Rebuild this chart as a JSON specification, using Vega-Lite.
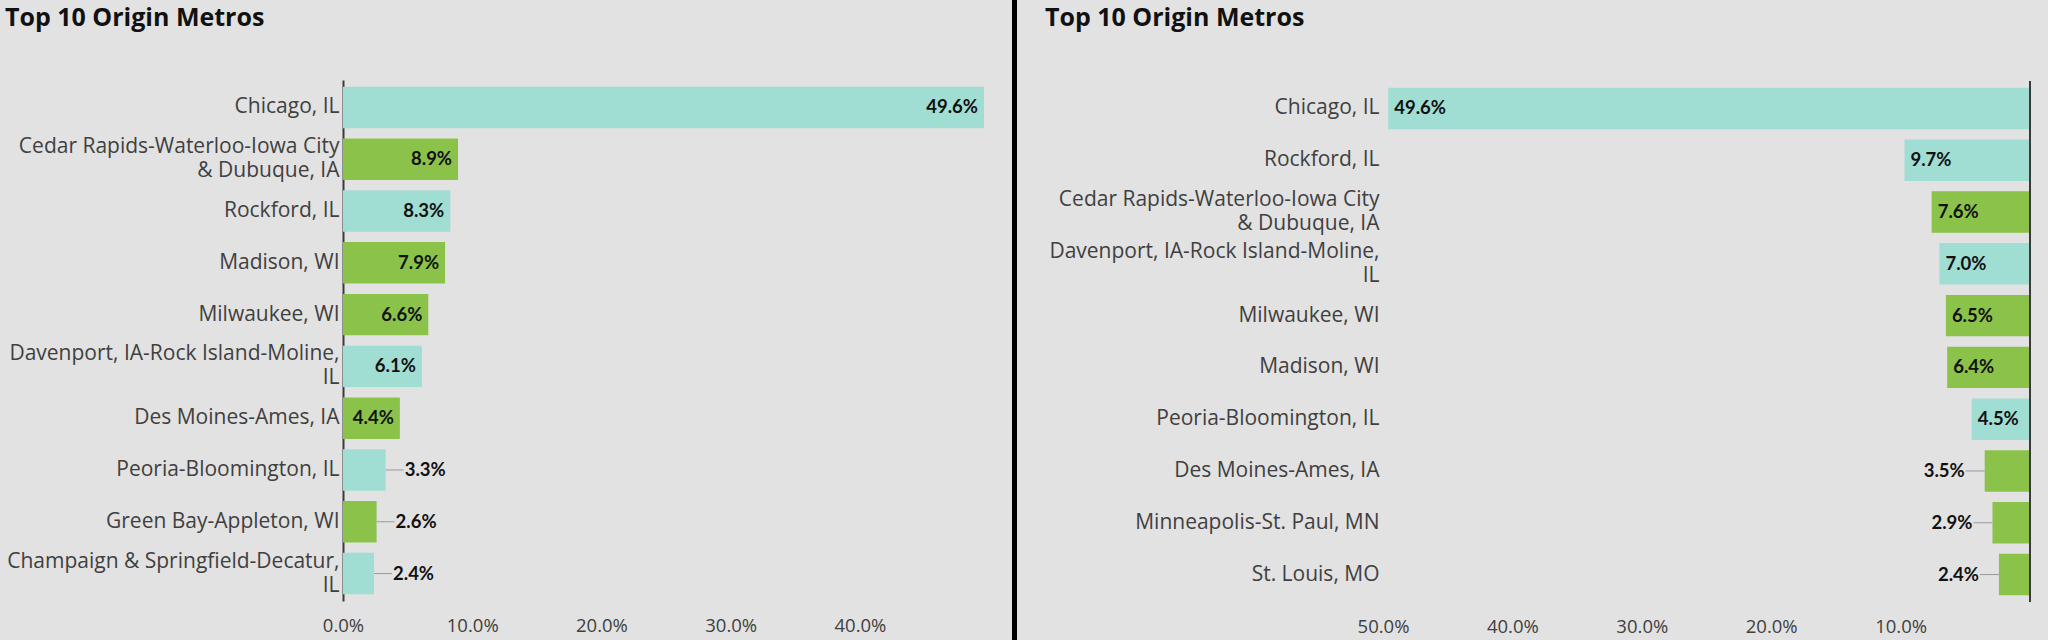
{
  "$schema": "https://vega.github.io/schema/vega-lite/v6.json",
  "background": "#e2e2e2",
  "padding": {"left": 5, "top": 0, "right": 18, "bottom": 0},
  "config": {
    "view": {"stroke": null},
    "font": "Open Sans",
    "axis": {"labelFont": "Open Sans", "labelColor": "#404040", "ticks": false, "grid": false, "title": null},
    "title": {"font": "Open Sans", "fontSize": 25, "fontWeight": "bold", "color": "#111111", "anchor": "start", "frame": "bounds", "offset": 49}
  },
  "datasets": {
    "left": [
      {"name": "Chicago, IL", "pct": 0.496, "grp": "IL"},
      {"name": "Cedar Rapids-Waterloo-Iowa City & Dubuque, IA", "pct": 0.089, "grp": "Other"},
      {"name": "Rockford, IL", "pct": 0.083, "grp": "IL"},
      {"name": "Madison, WI", "pct": 0.079, "grp": "Other"},
      {"name": "Milwaukee, WI", "pct": 0.066, "grp": "Other"},
      {"name": "Davenport, IA-Rock Island-Moline, IL", "pct": 0.061, "grp": "IL"},
      {"name": "Des Moines-Ames, IA", "pct": 0.044, "grp": "Other"},
      {"name": "Peoria-Bloomington, IL", "pct": 0.033, "grp": "IL"},
      {"name": "Green Bay-Appleton, WI", "pct": 0.026, "grp": "Other"},
      {"name": "Champaign & Springfield-Decatur, IL", "pct": 0.024, "grp": "IL"}
    ],
    "right": [
      {"name": "Chicago, IL", "pct": 0.496, "grp": "IL"},
      {"name": "Rockford, IL", "pct": 0.097, "grp": "IL"},
      {"name": "Cedar Rapids-Waterloo-Iowa City & Dubuque, IA", "pct": 0.076, "grp": "Other"},
      {"name": "Davenport, IA-Rock Island-Moline, IL", "pct": 0.070, "grp": "IL"},
      {"name": "Milwaukee, WI", "pct": 0.065, "grp": "Other"},
      {"name": "Madison, WI", "pct": 0.064, "grp": "Other"},
      {"name": "Peoria-Bloomington, IL", "pct": 0.045, "grp": "IL"},
      {"name": "Des Moines-Ames, IA", "pct": 0.035, "grp": "Other"},
      {"name": "Minneapolis-St. Paul, MN", "pct": 0.029, "grp": "Other"},
      {"name": "St. Louis, MO", "pct": 0.024, "grp": "Other"}
    ]
  },
  "columns": 3,
  "spacing": 28,
  "concat": [
    {
      "spacing": 0,
      "vconcat": [
        {
          "width": 1, "height": 6,
          "data": {"values": [{}]},
          "mark": {"type": "text", "fontSize": 0, "baseline": "top"},
          "encoding": {"text": {"value": ""}}
        },
        {
          "title": "Top 10 Origin Metros",
          "width": 641,
          "height": 521,
          "data": {"name": "left"},
          "encoding": {
            "y": {
              "field": "name", "type": "nominal", "sort": null,
              "scale": {"paddingInner": 0.2, "paddingOuter": 0.13},
              "axis": {
                "domain": true, "domainColor": "#3a3a3a", "domainWidth": 2,
                "labelFontSize": 21, "labelPadding": 4, "minExtent": 338, "labelLineHeight": 24, "labelLimit": 400,
                "labelOffset": {"condition": {"test": "length(datum.value) > 30", "value": -12}, "value": 0},
                "labelExpr": "split(length(datum.value) > 30 ? replace(replace(datum.value, 'City & ', 'City|& '), ', IL', ',|IL') : datum.value, '|')"
              }
            },
            "x": {
              "field": "pct", "type": "quantitative",
              "scale": {"domain": [0, 0.496], "nice": false},
              "axis": {"values": [0, 0.1, 0.2, 0.3, 0.4], "format": ".1%", "domain": false, "labelFlush": false, "labelFontSize": 18.5, "labelPadding": 15}
            }
          },
          "layer": [
            {
              "mark": {"type": "bar"},
              "encoding": {"color": {"field": "grp", "type": "nominal", "scale": {"domain": ["IL", "Other"], "range": ["#a0ddd3", "#8bc34a"]}, "legend": null}}
            },
            {
              "transform": [{"filter": "datum.pct < 0.04"}],
              "mark": {"type": "rule", "color": "#999999", "strokeWidth": 1, "x2Offset": 18},
              "encoding": {"x2": {"field": "pct"}}
            },
            {
              "transform": [{"filter": "datum.pct >= 0.04"}],
              "mark": {"type": "text", "align": "right", "dx": -6, "font": "Lato", "fontWeight": "bold", "fontSize": 18.5, "color": "#111111"},
              "encoding": {"text": {"field": "pct", "type": "quantitative", "format": ".1%"}}
            },
            {
              "transform": [{"filter": "datum.pct < 0.04"}],
              "mark": {"type": "text", "align": "left", "dx": 19, "font": "Lato", "fontWeight": "bold", "fontSize": 18.5, "color": "#111111"},
              "encoding": {"text": {"field": "pct", "type": "quantitative", "format": ".1%"}}
            }
          ]
        }
      ]
    },
    {
      "width": 5,
      "height": 640,
      "view": {"fill": "#000000", "stroke": null},
      "data": {"values": [{}]},
      "mark": {"type": "text", "fontSize": 0, "baseline": "top"},
      "encoding": {"text": {"value": ""}}
    },
    {
      "spacing": 0,
      "vconcat": [
        {
          "width": 1, "height": 6,
          "data": {"values": [{}]},
          "mark": {"type": "text", "fontSize": 0, "baseline": "top"},
          "encoding": {"text": {"value": ""}}
        },
        {
          "title": "Top 10 Origin Metros",
          "width": 647,
          "height": 521,
          "data": {"name": "right"},
          "encoding": {
            "y": {
              "field": "name", "type": "nominal", "sort": null,
              "scale": {"paddingInner": 0.2, "paddingOuter": 0.13},
              "axis": {
                "domain": false,
                "labelFontSize": 21, "labelPadding": 4, "minExtent": 338, "labelLineHeight": 24, "labelLimit": 400,
                "labelOffset": {"condition": {"test": "length(datum.value) > 30", "value": -12}, "value": 0},
                "labelExpr": "split(length(datum.value) > 30 ? replace(replace(datum.value, 'City & ', 'City|& '), ', IL', ',|IL') : datum.value, '|')"
              }
            },
            "x": {
              "field": "pct", "type": "quantitative",
              "scale": {"domain": [0, 0.5], "nice": false, "reverse": true},
              "axis": {"values": [0.1, 0.2, 0.3, 0.4, 0.5], "format": ".1%", "domain": false, "labelFlush": false, "labelFontSize": 18.5, "labelPadding": 15}
            }
          },
          "layer": [
            {
              "mark": {"type": "bar"},
              "encoding": {"color": {"field": "grp", "type": "nominal", "scale": {"domain": ["IL", "Other"], "range": ["#a0ddd3", "#8bc34a"]}, "legend": null}}
            },
            {
              "mark": {"type": "rule", "color": "#3a3a3a", "strokeWidth": 2},
              "encoding": {"x": {"datum": 0}, "y": null}
            },
            {
              "transform": [{"filter": "datum.pct < 0.04"}],
              "mark": {"type": "rule", "color": "#999999", "strokeWidth": 1, "x2Offset": -19},
              "encoding": {"x2": {"field": "pct"}}
            },
            {
              "transform": [{"filter": "datum.pct >= 0.04"}],
              "mark": {"type": "text", "align": "left", "dx": 6, "font": "Lato", "fontWeight": "bold", "fontSize": 18.5, "color": "#111111"},
              "encoding": {"text": {"field": "pct", "type": "quantitative", "format": ".1%"}}
            },
            {
              "transform": [{"filter": "datum.pct < 0.04"}],
              "mark": {"type": "text", "align": "right", "dx": -20, "font": "Lato", "fontWeight": "bold", "fontSize": 18.5, "color": "#111111"},
              "encoding": {"text": {"field": "pct", "type": "quantitative", "format": ".1%"}}
            }
          ]
        }
      ]
    }
  ]
}
